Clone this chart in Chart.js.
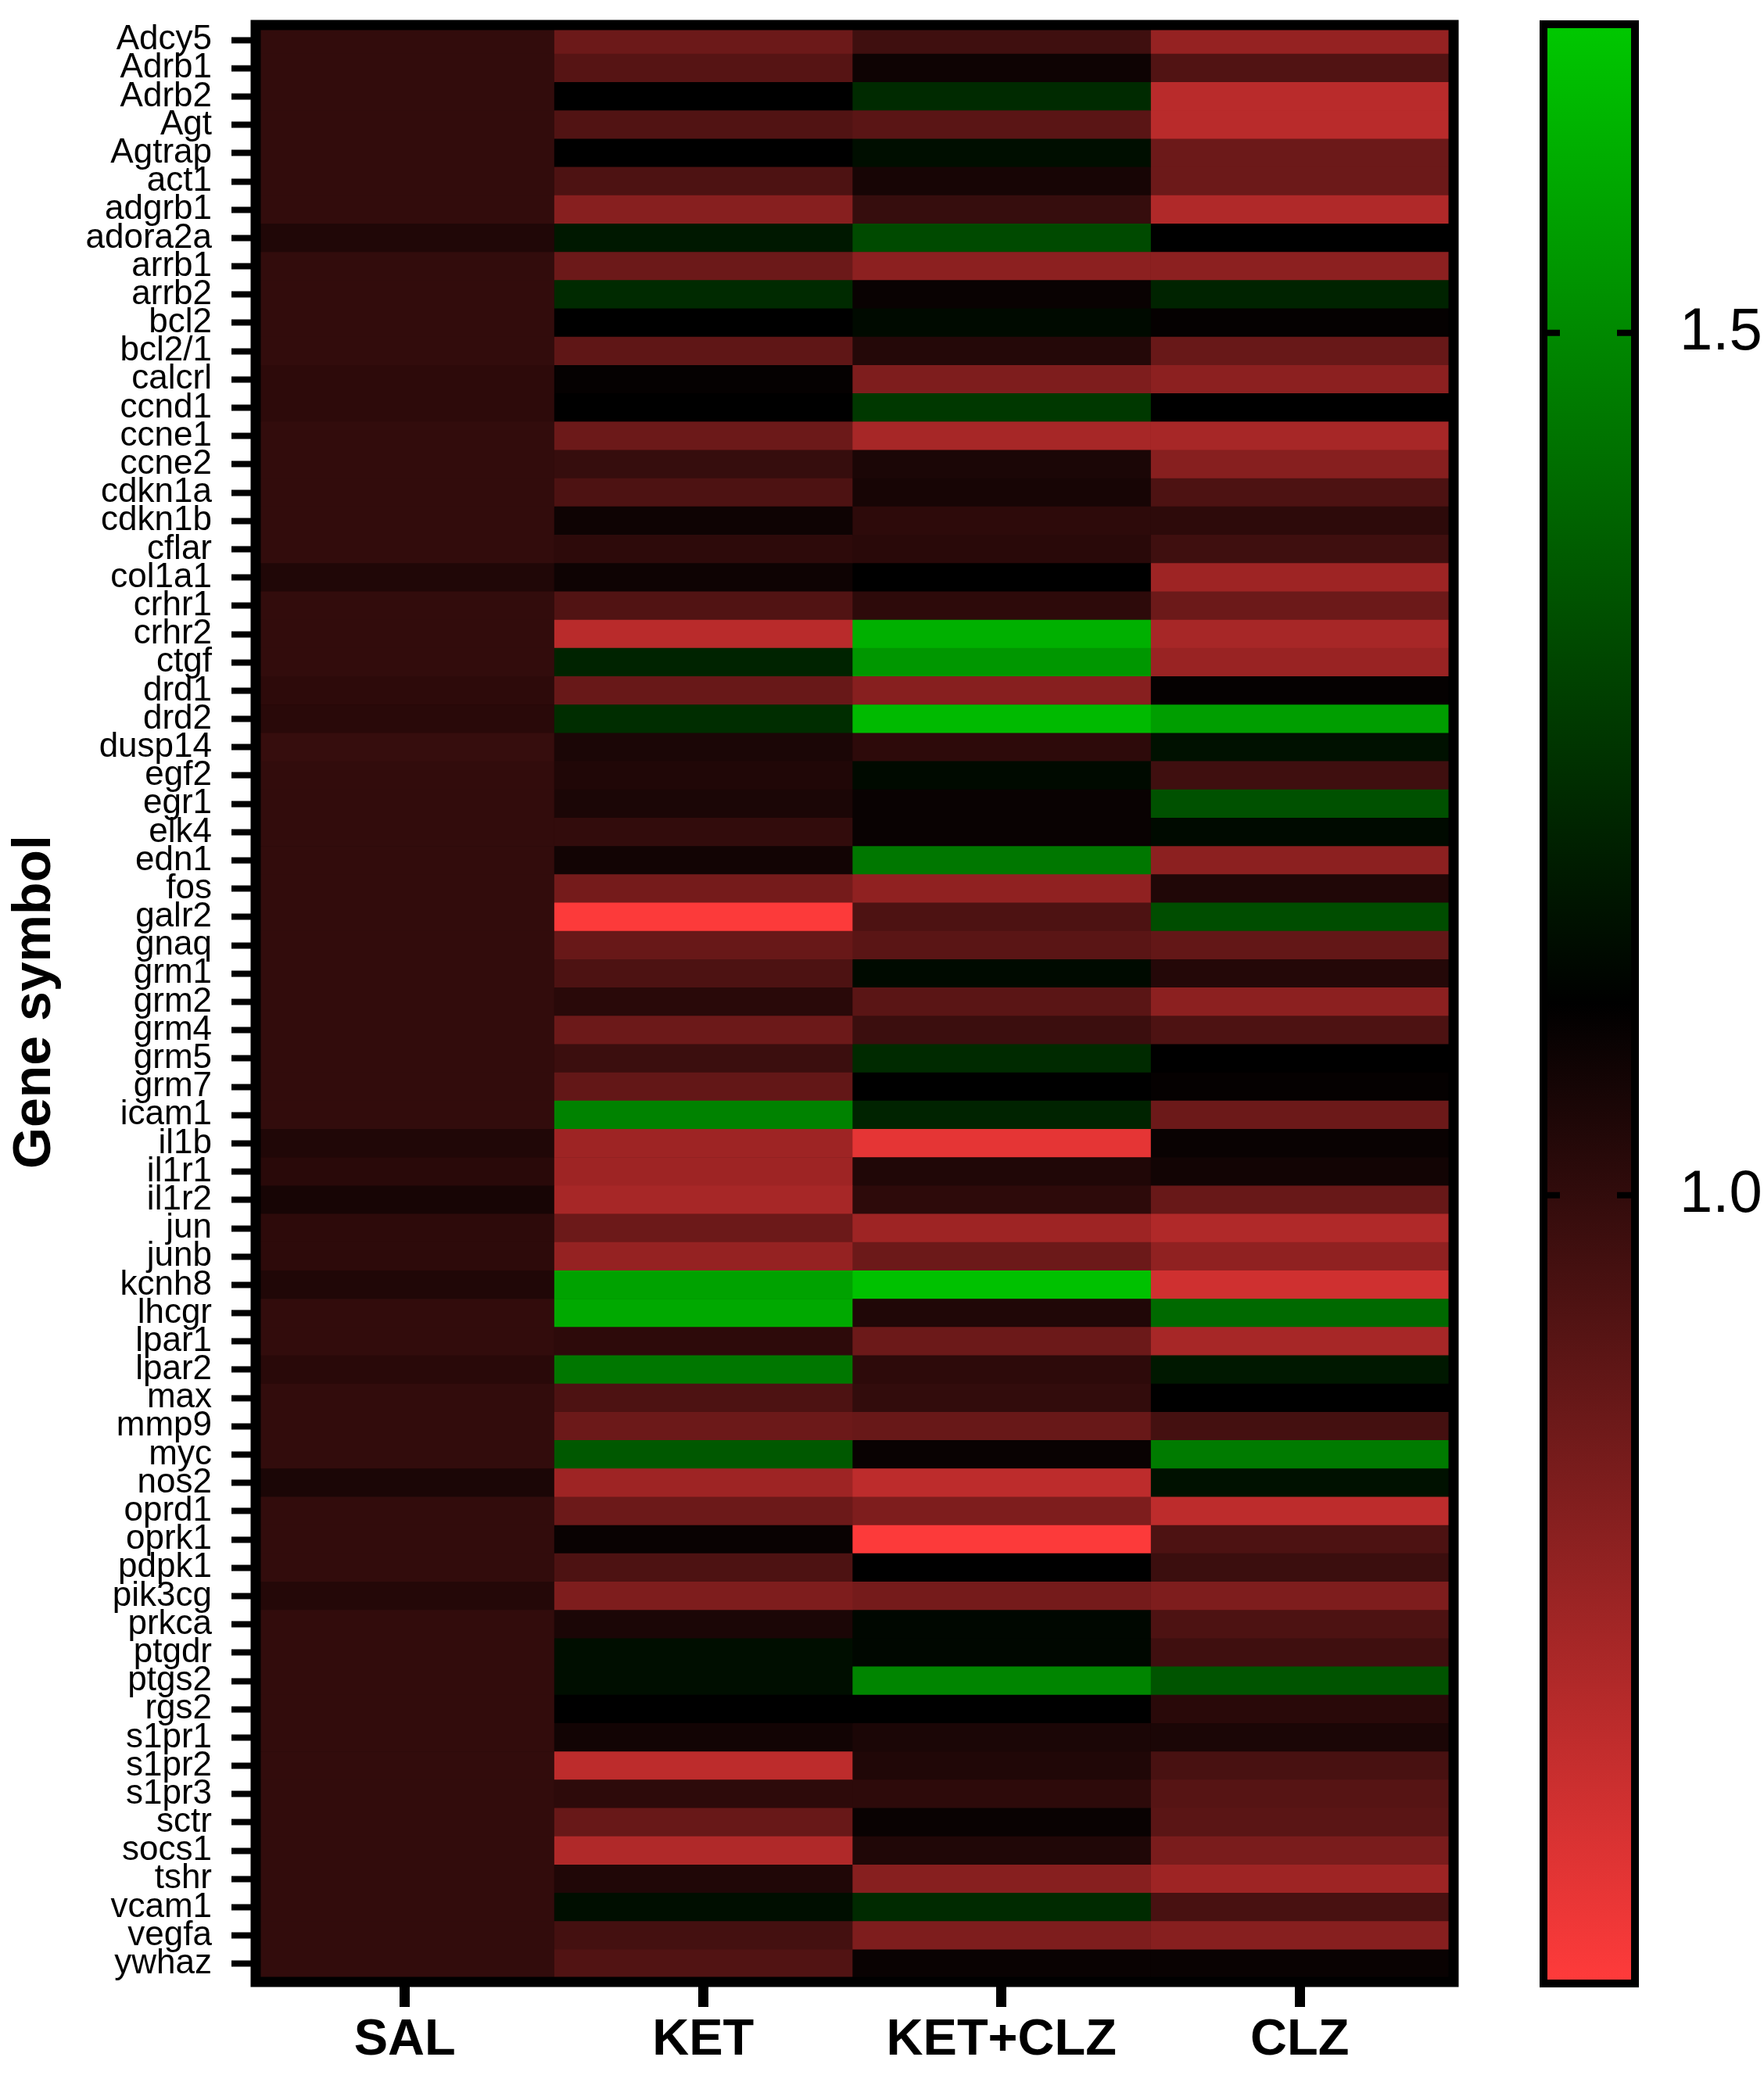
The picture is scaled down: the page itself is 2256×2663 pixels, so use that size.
<!DOCTYPE html>
<html>
<head>
<meta charset="utf-8">
<script src="https://cdn.jsdelivr.net/npm/chart.js@4.4.1/dist/chart.umd.min.js"></script>
<style>
  html, body { margin: 0; padding: 0; background: #fff; }
  #wrap { position: relative; width: 2256px; height: 2663px; }
  #heat { position: absolute; left: 0; top: 0; }
  #bar { position: absolute; left: 1900px; top: 0; }
</style>
</head>
<body>
<div id="wrap">
  <canvas id="heat" width="1900" height="2663"></canvas>
  <canvas id="bar" width="356" height="2663"></canvas>
</div>
<script>
// gene rows, top to bottom
const genes = ['Adcy5', 'Adrb1', 'Adrb2', 'Agt', 'Agtrap', 'act1', 'adgrb1', 'adora2a', 'arrb1', 'arrb2',
  'bcl2', 'bcl2/1', 'calcrl', 'ccnd1', 'ccne1', 'ccne2', 'cdkn1a', 'cdkn1b', 'cflar', 'col1a1',
  'crhr1', 'crhr2', 'ctgf', 'drd1', 'drd2', 'dusp14', 'egf2', 'egr1', 'elk4', 'edn1',
  'fos', 'galr2', 'gnaq', 'grm1', 'grm2', 'grm4', 'grm5', 'grm7', 'icam1', 'il1b',
  'il1r1', 'il1r2', 'jun', 'junb', 'kcnh8', 'lhcgr', 'lpar1', 'lpar2', 'max', 'mmp9',
  'myc', 'nos2', 'oprd1', 'oprk1', 'pdpk1', 'pik3cg', 'prkca', 'ptgdr', 'ptgs2', 'rgs2',
  's1pr1', 's1pr2', 's1pr3', 'sctr', 'socs1', 'tshr', 'vcam1', 'vegfa', 'ywhaz'];

const groups = ['SAL', 'KET', 'KET+CLZ', 'CLZ'];

// fold change per gene, same order as genes
const sal = [1.00, 1.00, 1.00, 1.00, 1.00, 1.00, 1.00, 1.04, 1.00, 1.00,
  1.00, 1.00, 1.01, 1.01, 1.00, 1.00, 1.00, 1.00, 1.00, 1.04,
  1.00, 1.00, 1.00, 1.01, 1.02, 0.99, 1.00, 1.00, 1.00, 1.00,
  1.00, 1.00, 1.00, 1.00, 1.00, 1.00, 1.00, 1.00, 1.00, 1.04,
  1.02, 1.06, 1.01, 1.01, 1.04, 1.00, 1.00, 1.02, 1.00, 1.00,
  1.00, 1.05, 1.00, 1.00, 1.00, 1.03, 1.00, 1.00, 1.00, 1.00,
  1.00, 1.00, 1.00, 1.00, 1.00, 1.00, 1.00, 1.00, 1.00];

const ket = [0.87, 0.92, 1.11, 0.93, 1.11, 0.94, 0.81, 1.18, 0.87, 1.23,
  1.11, 0.90, 1.10, 1.11, 0.87, 0.99, 0.94, 1.08, 1.01, 1.08,
  0.93, 0.70, 1.21, 0.88, 1.24, 1.05, 1.04, 1.05, 1.00, 1.07,
  0.85, 0.55, 0.88, 0.94, 1.02, 0.87, 0.98, 0.89, 1.48, 0.76,
  0.76, 0.74, 0.87, 0.78, 1.57, 1.59, 1.01, 1.45, 0.94, 0.87,
  1.36, 0.76, 0.87, 1.09, 0.94, 0.83, 1.05, 1.15, 1.15, 1.11,
  1.07, 0.69, 1.01, 0.88, 0.72, 1.04, 1.15, 0.96, 0.93];

const ketClz = [0.97, 1.08, 1.23, 0.91, 1.15, 1.06, 0.99, 1.32, 0.80, 1.09,
  1.14, 1.03, 0.83, 1.27, 0.74, 1.05, 1.06, 1.01, 1.02, 1.11,
  1.01, 1.61, 1.54, 0.81, 1.64, 1.01, 1.14, 1.09, 1.09, 1.45,
  0.79, 0.94, 0.91, 1.14, 0.91, 0.98, 1.23, 1.11, 1.21, 0.60,
  1.04, 1.01, 0.76, 0.87, 1.66, 1.04, 0.87, 1.01, 1.00, 0.88,
  1.09, 0.69, 0.83, 0.55, 1.11, 0.85, 1.13, 1.13, 1.49, 1.11,
  1.05, 1.04, 1.01, 1.09, 1.04, 0.81, 1.23, 0.83, 1.09];

const clz = [0.78, 0.93, 0.70, 0.70, 0.87, 0.87, 0.72, 1.11, 0.80, 1.21,
  1.10, 0.88, 0.80, 1.11, 0.74, 0.81, 0.94, 1.01, 0.97, 0.76,
  0.87, 0.74, 0.77, 1.10, 1.56, 1.16, 0.97, 1.34, 1.14, 0.80,
  1.04, 1.33, 0.89, 1.03, 0.80, 0.94, 1.11, 1.10, 0.87, 1.09,
  1.07, 0.88, 0.72, 0.79, 0.65, 1.41, 0.74, 1.18, 1.11, 0.96,
  1.46, 1.16, 0.69, 0.94, 0.98, 0.83, 0.94, 0.97, 1.35, 1.02,
  1.05, 0.95, 0.92, 0.91, 0.84, 0.76, 0.95, 0.81, 1.09];

const values = [sal, ket, ketClz, clz];

// colour scale
const scaleMin = 0.543;
const scaleMax = 1.679;
const scaleMid = (scaleMin + scaleMax) / 2;
const barTicks = [1.0, 1.5];

function cellColor(v) {
  if (v <= scaleMid) {
    const t = Math.min(1, (scaleMid - v) / (scaleMid - scaleMin));
    return 'rgb(' + Math.round(255 * t) + ',' + Math.round(59 * t) + ',' + Math.round(59 * t) + ')';
  }
  const t = Math.min(1, (v - scaleMid) / (scaleMax - scaleMid));
  return 'rgb(0,' + Math.round(200 * t) + ',0)';
}

const font = 'Liberation Sans, Arial, sans-serif';

// black backing + thick frame around the plot area
const framePlugin = {
  id: 'frame',
  beforeDatasetsDraw(chart) {
    const { ctx, chartArea: a } = chart;
    ctx.save();
    ctx.fillStyle = '#000';
    ctx.fillRect(a.left, a.top, a.width, a.height);
    ctx.restore();
  },
  afterDraw(chart, args, o) {
    const { ctx, chartArea: a } = chart;
    ctx.save();
    ctx.lineWidth = o.width;
    ctx.strokeStyle = '#000';
    ctx.strokeRect(a.left + o.dl, a.top + o.dt, a.width + o.dw, a.height + o.dh);
    ctx.restore();
  }
};

// keep tick labels from pushing the plot area in
function noLabelPadding(s) {
  s.paddingTop = 0;
  s.paddingBottom = 0;
}

const heatSets = groups.map((g, c) => ({
  label: g,
  data: genes.map(() => [c, c + 1]),
  backgroundColor: values[c].map(cellColor),
  borderWidth: 0,
  barPercentage: 1,
  categoryPercentage: 1,
  grouped: false
}));

new Chart(document.getElementById('heat'), {
  type: 'bar',
  data: { labels: genes, datasets: heatSets },
  plugins: [framePlugin],
  options: {
    indexAxis: 'y',
    responsive: false,
    animation: false,
    devicePixelRatio: 1,
    layout: { padding: { top: 33, left: 0, right: 47, bottom: 0 } },
    plugins: {
      legend: { display: false },
      tooltip: { enabled: false },
      frame: { width: 13, dl: 0, dt: -1, dw: 6, dh: 6 }
    },
    scales: {
      x: {
        type: 'linear',
        min: 0,
        max: 4,
        afterBuildTicks: (s) => { s.ticks = [0.5, 1.5, 2.5, 3.5].map(v => ({ value: v })); },
        afterFit: (s) => { s.height = 133; },
        border: { display: false },
        grid: { drawOnChartArea: false, tickLength: 37, tickWidth: 13, tickColor: '#000' },
        ticks: {
          callback: (v) => groups[Math.floor(v)],
          font: { family: font, size: 65, weight: 'bold' },
          color: '#000',
          padding: 4,
          maxRotation: 0
        }
      },
      y: {
        afterFit: (s) => { s.width = 327; noLabelPadding(s); },
        border: { display: false },
        grid: { offset: false, drawOnChartArea: false, tickLength: 31, tickWidth: 8, tickColor: '#000' },
        ticks: {
          autoSkip: false,
          font: { family: font, size: 44 },
          color: '#000',
          padding: 25
        },
        title: {
          display: true,
          text: 'Gene symbol',
          font: { family: font, size: 68, weight: 'bold' },
          color: '#000',
          padding: { top: 4, bottom: 0 }
        }
      }
    }
  }
});

// colour bar
const barTickPlugin = {
  id: 'barTicks',
  afterDraw(chart) {
    const { ctx, chartArea: a } = chart;
    const y = chart.scales.y;
    ctx.save();
    ctx.strokeStyle = '#000';
    ctx.lineWidth = 8;
    barTicks.forEach(v => {
      const py = y.getPixelForValue(v);
      ctx.beginPath();
      ctx.moveTo(a.left, py);
      ctx.lineTo(a.left + 21, py);
      ctx.moveTo(a.right - 23, py);
      ctx.lineTo(a.right, py);
      ctx.stroke();
    });
    ctx.restore();
  }
};

new Chart(document.getElementById('bar'), {
  type: 'bar',
  data: {
    labels: ['scale'],
    datasets: [{
      data: [[scaleMin, scaleMax]],
      borderWidth: 0,
      barPercentage: 1,
      categoryPercentage: 1,
      backgroundColor(c) {
        const chart = c.chart;
        if (!chart.chartArea) return '#000';
        const y = chart.scales.y;
        const g = chart.ctx.createLinearGradient(0, y.getPixelForValue(scaleMin), 0, y.getPixelForValue(scaleMax));
        g.addColorStop(0, cellColor(scaleMin));
        g.addColorStop(0.5, cellColor(scaleMid));
        g.addColorStop(1, cellColor(scaleMax));
        return g;
      }
    }]
  },
  plugins: [framePlugin, barTickPlugin],
  options: {
    responsive: false,
    animation: false,
    devicePixelRatio: 1,
    layout: { padding: { top: 31, left: 74, right: 0, bottom: 126 } },
    plugins: {
      legend: { display: false },
      tooltip: { enabled: false },
      frame: { width: 10, dl: 0, dt: 0, dw: 0, dh: 0 }
    },
    scales: {
      x: { display: false },
      y: {
        position: 'right',
        min: scaleMin,
        max: scaleMax,
        afterBuildTicks: (s) => { s.ticks = barTicks.map(v => ({ value: v })); },
        afterFit: (s) => { s.width = 165; noLabelPadding(s); },
        border: { display: false },
        grid: { display: false },
        ticks: {
          callback: (v) => v.toFixed(1),
          font: { family: font, size: 76 },
          color: '#000',
          padding: 49
        }
      }
    }
  }
});
</script>
</body>
</html>
